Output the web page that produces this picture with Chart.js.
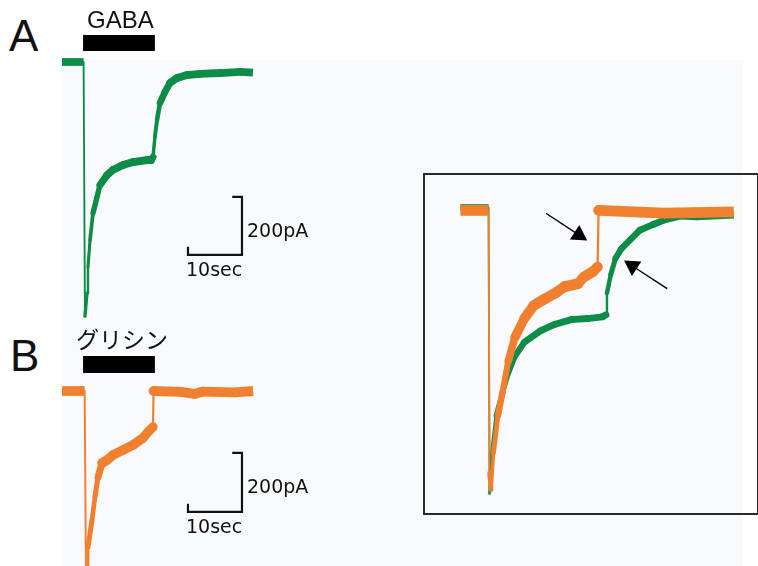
<!DOCTYPE html>
<html>
<head>
<meta charset="utf-8">
<script src="https://cdn.jsdelivr.net/npm/chart.js@4.4.0/dist/chart.umd.min.js"></script>
<style>
  html, body { margin: 0; padding: 0; background: #fff; }
  #stage { position: relative; width: 758px; height: 566px; overflow: hidden; }
  #tint { position: absolute; left: 61px; top: 60px; width: 682px; height: 506px; background: #f9fafd; }
  #insetFrame { position: absolute; left: 423px; top: 173px; width: 332px; height: 338px; border: 2px solid #2a2a2a; }
  canvas { position: absolute; }
  .lbl { position: absolute; white-space: nowrap; line-height: 1; color: #111; }
  .panel { font-family: "Liberation Sans", Arial, sans-serif; font-size: 44px; }
  .drug { font-family: "Liberation Sans", Arial, sans-serif; font-size: 24px; }
  .jp { font-family: "Noto Sans CJK JP", sans-serif; font-size: 23px; }
  .scale { font-family: "DejaVu Sans", sans-serif; font-size: 19px; }
</style>
</head>
<body>
<div id="stage">
  <div id="tint"></div>
  <div id="insetFrame"></div>
  <canvas id="chartA" width="216" height="330" style="left:62px;top:0px"></canvas>
  <canvas id="chartB" width="216" height="236" style="left:62px;top:330px"></canvas>
  <canvas id="chartInset" width="333" height="338" style="left:425px;top:175px"></canvas>

  <div class="lbl panel" style="left:9px;top:14px">A</div>
  <div class="lbl drug" style="left:87px;top:8px">GABA</div>
  <div class="lbl scale" style="left:247px;top:221px">200pA</div>
  <div class="lbl scale" style="left:186px;top:260px">10sec</div>

  <div class="lbl panel" style="left:10px;top:334px">B</div>
  <div class="lbl jp" style="left:76px;top:327px">グリシン</div>
  <div class="lbl scale" style="left:247px;top:477px">200pA</div>
  <div class="lbl scale" style="left:186px;top:517px">10sec</div>
</div>

<script>
// ---------------- Data (time in s, current in pA) ----------------
const gabaTime    = [0, 4.0, 4.25, 4.63, 4.81, 5.19, 5.74, 6.48, 7.04, 8.33, 9.44, 11.3, 13.15, 15.74, 16.5, 16.85, 17.2, 17.6, 18.15, 19.07, 20.0, 21.3, 23.15, 25.56, 29.26, 32.96, 35.37];
const gabaCurrent = [0, 0, -876, -797, -707, -614, -521, -466, -424, -390, -372, -355, -345, -338, -338, -328, -259, -200, -141, -103, -72, -55, -45, -41, -38, -34, -37];

const glyTime    = [0, 4.2, 4.45, 4.63, 4.81, 5.56, 6.11, 6.67, 7.41, 8.33, 9.44, 11.3, 13.15, 15.0, 15.93, 16.85, 16.95, 22.0, 24.5, 26.0, 32.0, 35.4];
const glyCurrent = [0, 0, -660, -597, -529, -437, -359, -292, -244, -234, -217, -200, -183, -159, -139, -122, 0, -3, -10, -2, -5, 0];

// application periods (s)
const gabaApplication = [3.9, 17.2];
const glyApplication  = [3.9, 17.2];

// scale bars: 10 sec x 200 pA
const scaleBarTime = 10;
const scaleBarCurrent = 200;

// inset: superimposed traces, current normalised to peak
const insetGlyTime  = [0.96, 4.15, 4.25, 4.45, 4.7, 5.21, 5.74, 6.38, 7.13, 8.19, 9.26, 10.32, 11.7, 12.77, 14.26, 14.89, 15.96, 16.49, 16.6, 24.0, 31.91];
const insetGlyNorm  = [0, 0, -0.93, -0.99, -0.86, -0.727, -0.643, -0.533, -0.45, -0.383, -0.337, -0.317, -0.293, -0.27, -0.26, -0.237, -0.217, -0.2, 0, -0.01, -0.005];
const insetGabaTime = [0.96, 4.15, 4.26, 4.47, 5.0, 5.74, 6.38, 7.13, 8.19, 10.0, 11.7, 13.51, 15.32, 17.02, 17.45, 17.55, 17.98, 18.51, 19.15, 20.21, 21.28, 22.77, 24.15, 25.96, 27.66, 31.91];
const insetGabaNorm = [0.01, 0.01, -1.003, -0.87, -0.727, -0.643, -0.577, -0.517, -0.467, -0.427, -0.403, -0.387, -0.383, -0.377, -0.37, -0.293, -0.227, -0.17, -0.137, -0.103, -0.07, -0.05, -0.033, -0.02, -0.023, -0.017];

// arrows in the inset: [fromTime, fromNorm, toTime, toNorm]
const arrowGly  = [10.64, -0.01, 14.36, -0.087];
const arrowGaba = [24.36, -0.277, 20.43, -0.197];

// ---------------- Helpers ----------------
const GREEN = '#0d8c48';
const ORANGE = '#f08030';
const INK = '#111';

function zip(xs, ys) {
  return xs.map((x, i) => ({ x, y: ys[i] }));
}

// thick band for the noisy record, thinner where the trace is steep
function bandWidth(noise) {
  return ctx => {
    const dx = Math.abs(ctx.p1.x - ctx.p0.x);
    const dy = ctx.p1.y - ctx.p0.y;
    const s = dy / (dx || 0.01) / 3;
    return 1.8 + noise / Math.sqrt(1 + s * s);
  };
}

function trace(data, color, noise) {
  const last = data.length - 1;
  return {
    data,
    borderColor: color,
    borderWidth: 1.8 + noise,
    borderCapStyle: 'round',
    borderJoinStyle: 'round',
    pointRadius: 0,
    clip: false,
    segment: {
      borderWidth: bandWidth(noise),
      borderCapStyle: ctx => (ctx.p0DataIndex === 0 || ctx.p1DataIndex === last) ? 'butt' : 'round'
    }
  };
}

function appBar(range, level, thickness) {
  return {
    data: [{ x: range[0], y: level }, { x: range[1], y: level }],
    borderColor: '#000',
    borderWidth: thickness,
    borderCapStyle: 'butt',
    pointRadius: 0,
    clip: false
  };
}

function scaleBar(cornerT, cornerI) {
  // little ticks at both ends, like the original drawing
  return {
    data: [
      { x: cornerT - scaleBarTime * 0.18, y: cornerI + scaleBarCurrent },
      { x: cornerT, y: cornerI + scaleBarCurrent },
      { x: cornerT, y: cornerI },
      { x: cornerT - scaleBarTime, y: cornerI },
      { x: cornerT - scaleBarTime, y: cornerI + scaleBarCurrent * 0.14 }
    ],
    borderColor: INK,
    borderWidth: 2.2,
    borderCapStyle: 'butt',
    borderJoinStyle: 'miter',
    pointRadius: 0,
    clip: false
  };
}

function arrow(a, rotation) {
  return {
    data: [{ x: a[0], y: a[1] }, { x: a[2], y: a[3] }],
    borderColor: '#000',
    borderWidth: 1.4,
    pointRadius: [0, 10],
    pointStyle: 'triangle',
    pointRotation: [0, rotation],
    pointBackgroundColor: '#000',
    pointBorderColor: '#000',
    pointBorderWidth: 0,
    clip: false
  };
}

function makePanel(canvasId, datasets, xRange, yRange) {
  return new Chart(document.getElementById(canvasId), {
    type: 'line',
    data: { datasets },
    options: {
      responsive: false,
      animation: false,
      devicePixelRatio: 1,
      events: [],
      layout: { padding: 0 },
      plugins: { legend: { display: false }, tooltip: { enabled: false } },
      scales: {
        x: { type: 'linear', display: false, min: xRange[0], max: xRange[1] },
        y: { type: 'linear', display: false, min: yRange[0], max: yRange[1] }
      }
    }
  });
}

// ---------------- Panel A ----------------
// 5.4 px per s, 0.29 px per pA, baseline 62 px below canvas top
const A_PX_S = 5.4, A_PX_PA = 0.29, A_BASE = 62;
makePanel('chartA', [
  trace(zip(gabaTime, gabaCurrent), GREEN, 6),
  appBar(gabaApplication, 65.5, 16),
  scaleBar(33.33, -665)
], [0, 216 / A_PX_S], [A_BASE / A_PX_PA - 330 / A_PX_PA, A_BASE / A_PX_PA]);

// ---------------- Panel B ----------------
const B_PX_S = 5.4, B_PX_PA = 0.295, B_BASE = 61;
makePanel('chartB', [
  trace(zip(glyTime, glyCurrent), ORANGE, 8),
  appBar(glyApplication, 89.8, 17),
  scaleBar(33.33, -410)
], [0, 216 / B_PX_S], [B_BASE / B_PX_PA - 236 / B_PX_PA, B_BASE / B_PX_PA]);

// ---------------- Inset ----------------
// 9.4 px per s (t=0 at 18 px from the left), 300 px per unit of normalised current
const I_PX_S = 9.4, I_T0 = 18, I_PX_N = 300, I_BASE = 27;
makePanel('chartInset', [
  arrow(arrowGly, 123),
  arrow(arrowGaba, -57),
  trace(zip(insetGlyTime, insetGlyNorm), ORANGE, 9),
  trace(zip(insetGabaTime, insetGabaNorm), GREEN, 5)
], [-I_T0 / I_PX_S, (333 - I_T0) / I_PX_S], [(I_BASE - 338) / I_PX_N, I_BASE / I_PX_N]);
</script>
</body>
</html>
